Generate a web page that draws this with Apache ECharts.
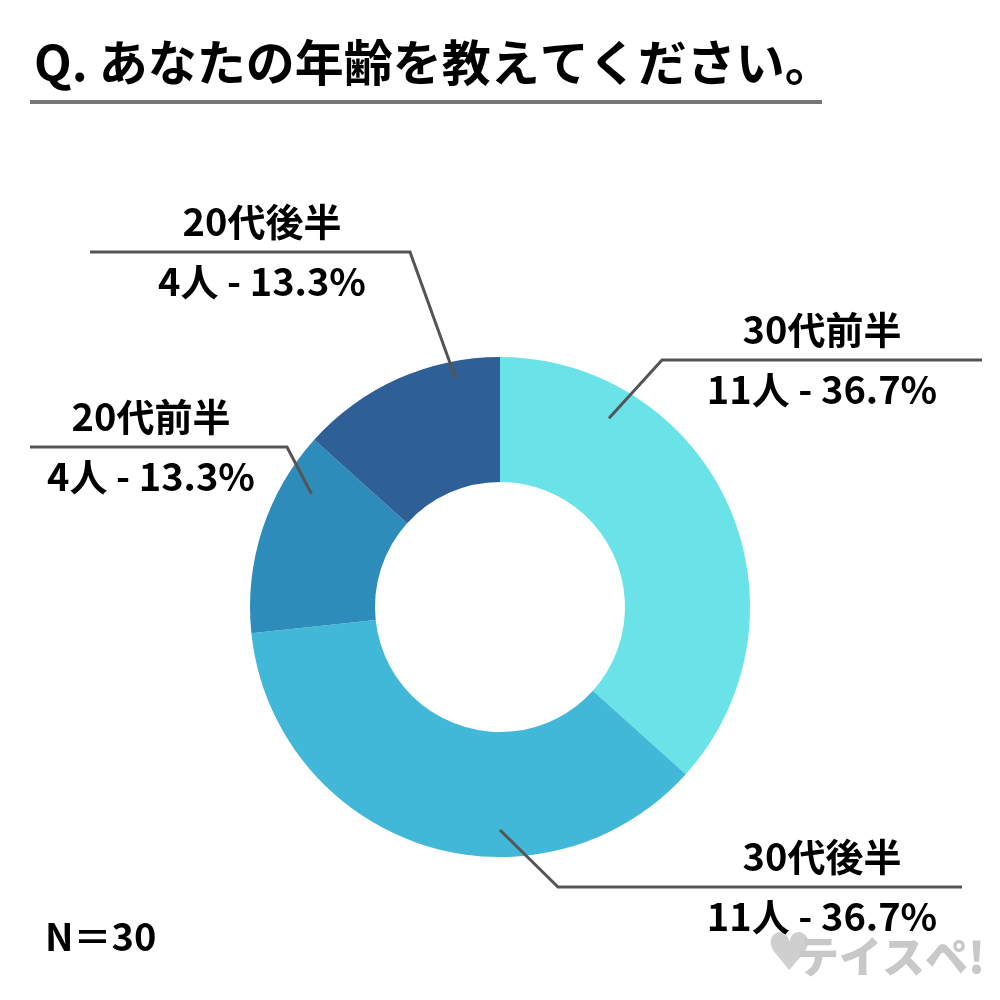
<!DOCTYPE html>
<html><head><meta charset="utf-8">
<script src="https://cdn.jsdelivr.net/npm/echarts@6/dist/echarts.min.js"></script>
<style>html,body{margin:0;padding:0;background:#fff}#c{width:1000px;height:1000px}</style>
</head><body><div id="c"></div>
<script>
const titleText = 'Q. あなたの年齢を教えてください。';
const categories = ['30代前半', '30代後半', '20代前半', '20代後半'];
const counts = [11, 11, 4, 4];
const unit = '人';
const sampleLabel = 'N＝30';
const brand = 'テイスペ!';

// styles / layout
const colors = ['#6AE3E8', '#42B8D8', '#2E8CBA', '#2F5F97'];
const labelFont = '"Noto Sans CJK JP", sans-serif';
const cjkFont = '"Noto Sans CJK JP", sans-serif';
const pieCenter = ['50%', '60.7%'];
const pieRadius = ['25%', '50%'];
// callout geometry: anchor in polar terms (deg clockwise from top, px radius), elbow & text in px
const calloutAnchorAngle = [30, 180, 301, 349];
const calloutAnchorRadius = [218, 223, 220, 233];
const calloutElbow = [[662, 360], [558, 887], [287, 447], [410, 252]];
const calloutEndX = [982, 962, 30, 90];
const calloutTextX = [822, 822, 151, 262];

const chart = echarts.init(document.getElementById('c'), null, {renderer: 'canvas'});
const W = chart.getWidth(), H = chart.getHeight();
const cx = W * parseFloat(pieCenter[0]) / 100;
const cy = H * parseFloat(pieCenter[1]) / 100;

const pieData = categories.map((c, i) => ({name: c, value: counts[i], itemStyle: {color: colors[i]}}));
const overlayData = categories.map((c, i) => ({name: c, value: counts[i], itemStyle: {color: 'rgba(0,0,0,0)'}}));

chart.setOption({
  animation: false,
  backgroundColor: '#fff',
  title: {
    text: titleText, left: 29, top: 33,
    textStyle: {fontSize: 49, fontWeight: 'bold', color: '#000', fontFamily: cjkFont}
  },
  graphic: [
    {type: 'rect', shape: {x: 30, y: 100, width: 792, height: 4}, style: {fill: '#777'}, silent: true},
    {type: 'text', left: 45, top: 918, style: {text: sampleLabel, font: 'bold 38px ' + labelFont, fill: '#000'}},
    {type: 'text', left: 766, top: 930, style: {text: '♥', font: 'bold 52px "DejaVu Sans"', fill: '#cfcfcf'}},
    {type: 'text', right: 15, top: 935, style: {text: brand, font: '900 43px ' + cjkFont, fill: '#c8c8c8'}}
  ],
  series: [{
    type: 'pie',
    z: 2,
    center: pieCenter,
    radius: pieRadius,
    startAngle: 90,
    clockwise: true,
    emphasis: {disabled: true},
    itemStyle: {borderWidth: 0},
    label: {show: false},
    labelLine: {show: false},
    data: pieData
  }, {
    type: 'pie',
    z: 5,
    silent: true,
    center: pieCenter,
    radius: pieRadius,
    startAngle: 90,
    clockwise: true,
    avoidLabelOverlap: false,
    percentPrecision: 1,
    emphasis: {disabled: true},
    itemStyle: {borderWidth: 0},
    data: overlayData,
    label: {
      show: true, position: 'outside',
      formatter: p => `{n|${p.name}}\n{v|${p.value}${unit} - ${p.percent}%}`,
      rich: {
        n: {fontSize: 38, fontWeight: 'bold', lineHeight: 60, color: '#000', fontFamily: labelFont, align: 'center'},
        v: {fontSize: 38, fontWeight: 'bold', lineHeight: 60, color: '#000', fontFamily: labelFont, align: 'center'}
      }
    },
    labelLine: {show: true, length: 20, length2: 20, lineStyle: {color: '#555', width: 3}},
    labelLayout: function (params) {
      const i = params.dataIndex;
      const a = calloutAnchorAngle[i] * Math.PI / 180;
      const r = calloutAnchorRadius[i];
      const ax = cx + r * Math.sin(a), ay = cy - r * Math.cos(a);
      const e = calloutElbow[i];
      return {
        x: calloutTextX[i], y: e[1], align: 'center', verticalAlign: 'middle',
        labelLinePoints: [[ax, ay], [e[0], e[1]], [calloutEndX[i], e[1]]]
      };
    }
  }]
});
</script></body></html>
